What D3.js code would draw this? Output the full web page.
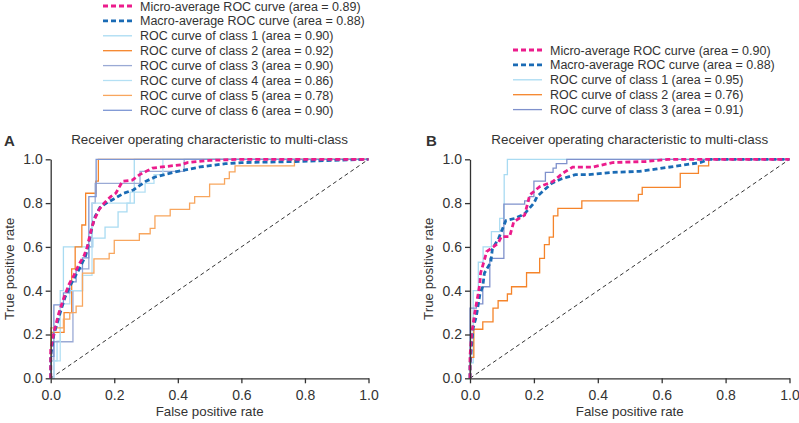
<!DOCTYPE html>
<html>
<head>
<meta charset="utf-8">
<script src="https://cdn.jsdelivr.net/npm/d3@7"></script>
<style>
  body { margin: 0; background: #fff; }
  svg { display: block; font-family: "Liberation Sans", Arial, sans-serif; }
</style>
</head>
<body>
<svg id="roc" width="799" height="423"></svg>
<script>
// valores: pares [taxa de falso positivo, taxa de verdadeiro positivo]
const ticks = [0, 0.2, 0.4, 0.6, 0.8, 1.0];
const titulo = "Receiver operating characteristic to multi-class";

// painel A
const a_micro = [[0,0],[0,0.13],[0.01,0.21],[0.026,0.3],[0.042,0.37],[0.058,0.43],[0.073,0.47],[0.089,0.52],[0.105,0.56],[0.115,0.6],[0.126,0.67],[0.136,0.72],[0.152,0.77],[0.168,0.8],[0.189,0.83],[0.205,0.845],[0.226,0.9],[0.257,0.905],[0.28,0.93],[0.32,0.96],[0.35,0.965],[0.41,0.975],[0.43,0.985],[0.5,0.995],[0.6,1],[1,1]];
const a_macro = [[0,0],[0,0.1],[0.01,0.2],[0.03,0.3],[0.045,0.37],[0.06,0.42],[0.075,0.46],[0.09,0.5],[0.11,0.56],[0.12,0.62],[0.13,0.69],[0.14,0.74],[0.155,0.78],[0.175,0.8],[0.2,0.82],[0.23,0.845],[0.26,0.86],[0.3,0.9],[0.33,0.92],[0.4,0.945],[0.47,0.965],[0.55,0.98],[0.6,0.985],[0.77,0.99],[1,1]];
const a_classe1 = [[0,0],[0,0.08],[0.02,0.08],[0.02,0.17],[0.03,0.17],[0.03,0.4],[0.04,0.4],[0.04,0.6],[0.133,0.6],[0.133,0.64],[0.171,0.64],[0.171,0.69],[0.212,0.69],[0.212,0.76],[0.24,0.76],[0.24,0.8],[0.263,0.8],[0.263,1],[1,1]];
const a_classe2 = [[0,0],[0,0.21],[0.042,0.21],[0.042,0.3],[0.066,0.3],[0.066,0.5],[0.077,0.5],[0.077,0.6],[0.098,0.6],[0.098,0.7],[0.11,0.7],[0.11,0.845],[0.142,0.845],[0.142,0.9],[0.15,0.9],[0.15,1],[1,1]];
const a_classe3 = [[0,0],[0.01,0],[0.01,0.167],[0.07,0.167],[0.07,0.4],[0.1,0.4],[0.1,0.5],[0.12,0.5],[0.12,0.6],[0.13,0.6],[0.13,0.8],[0.14,0.8],[0.14,0.89],[0.281,0.89],[0.281,0.945],[0.42,0.945],[0.42,1],[1,1]];
const a_classe4 = [[0,0],[0.01,0],[0.01,0.08],[0.03,0.08],[0.03,0.34],[0.06,0.34],[0.06,0.4],[0.1,0.4],[0.1,0.47],[0.13,0.47],[0.13,0.8],[0.25,0.8],[0.25,0.85],[0.297,0.85],[0.297,0.89],[0.325,0.89],[0.325,0.93],[0.353,0.93],[0.353,1],[1,1]];
const a_classe5 = [[0,0],[0,0.23],[0.04,0.23],[0.04,0.27],[0.06,0.27],[0.06,0.3],[0.08,0.3],[0.08,0.33],[0.1,0.33],[0.1,0.48],[0.136,0.48],[0.136,0.545],[0.184,0.545],[0.184,0.57],[0.2,0.57],[0.2,0.63],[0.279,0.63],[0.279,0.66],[0.313,0.66],[0.313,0.685],[0.328,0.685],[0.328,0.742],[0.376,0.742],[0.376,0.771],[0.437,0.771],[0.437,0.8],[0.453,0.8],[0.453,0.83],[0.5,0.83],[0.5,0.887],[0.547,0.887],[0.547,0.912],[0.562,0.912],[0.562,0.943],[0.58,0.943],[0.58,0.97],[0.767,0.97],[0.767,1],[1,1]];
const a_classe6 = [[0,0],[0,0.1],[0.01,0.1],[0.01,0.335],[0.04,0.335],[0.04,0.39],[0.06,0.39],[0.06,0.44],[0.08,0.44],[0.08,0.5],[0.1,0.5],[0.1,0.55],[0.12,0.55],[0.12,0.83],[0.143,0.83],[0.143,1],[1,1]];
const a_areas = [0.89, 0.88, 0.90, 0.92, 0.90, 0.86, 0.78, 0.90];

// painel B
const b_micro = [[0,0],[0,0.1],[0.005,0.2],[0.015,0.3],[0.025,0.38],[0.031,0.434],[0.033,0.48],[0.045,0.54],[0.052,0.578],[0.088,0.616],[0.098,0.647],[0.124,0.647],[0.137,0.715],[0.171,0.745],[0.187,0.837],[0.218,0.875],[0.259,0.898],[0.29,0.936],[0.321,0.964],[0.383,0.964],[0.446,0.985],[0.55,0.99],[0.62,1],[1,1]];
const b_macro = [[0,0],[0,0.06],[0.005,0.15],[0.01,0.23],[0.02,0.285],[0.031,0.384],[0.04,0.42],[0.045,0.48],[0.065,0.53],[0.07,0.59],[0.09,0.64],[0.112,0.72],[0.14,0.73],[0.17,0.75],[0.2,0.8],[0.21,0.83],[0.255,0.89],[0.285,0.91],[0.33,0.93],[0.37,0.93],[0.44,0.94],[0.53,0.945],[0.58,0.955],[0.65,0.97],[0.72,0.985],[0.75,1],[1,1]];
const b_classe1 = [[0,0],[0,0.07],[0.01,0.07],[0.01,0.4],[0.026,0.4],[0.026,0.53],[0.041,0.53],[0.041,0.6],[0.067,0.6],[0.067,0.67],[0.093,0.67],[0.093,0.73],[0.107,0.73],[0.107,0.93],[0.117,0.93],[0.117,1],[1,1]];
const b_classe2 = [[0,0],[0,0.096],[0.012,0.096],[0.012,0.224],[0.04,0.224],[0.04,0.258],[0.072,0.258],[0.072,0.32],[0.088,0.32],[0.088,0.354],[0.117,0.354],[0.117,0.385],[0.13,0.385],[0.13,0.418],[0.177,0.418],[0.177,0.482],[0.218,0.482],[0.218,0.548],[0.233,0.548],[0.233,0.61],[0.248,0.61],[0.248,0.645],[0.261,0.645],[0.261,0.742],[0.275,0.742],[0.275,0.776],[0.35,0.776],[0.35,0.81],[0.527,0.81],[0.527,0.84],[0.539,0.84],[0.539,0.872],[0.658,0.872],[0.658,0.936],[0.715,0.936],[0.715,0.97],[0.747,0.97],[0.747,1],[1,1]];
const b_classe3 = [[0,0],[0,0.32],[0.02,0.32],[0.02,0.34],[0.04,0.34],[0.04,0.418],[0.062,0.418],[0.062,0.548],[0.106,0.548],[0.106,0.795],[0.171,0.795],[0.171,0.81],[0.186,0.81],[0.186,0.83],[0.2,0.83],[0.2,0.9],[0.236,0.9],[0.236,0.94],[0.26,0.94],[0.26,0.96],[0.27,0.96],[0.27,0.98],[0.303,0.98],[0.303,1],[1,1]];
const b_areas = [0.90, 0.88, 0.95, 0.76, 0.91];

const cores_a = ["#ec1c8c", "#1a6bb5", "#a9dbf2", "#f5842a", "#9aaad5", "#b4e0f4", "#f8a65e", "#7d96d4"];
const cores_b = ["#ec1c8c", "#1a6bb5", "#a9dbf2", "#f5842a", "#7f91cc"];

function rotulos(areas) {
  return areas.map((a, i) => {
    if (i === 0) return `Micro-average ROC curve (area = ${a.toFixed(2)})`;
    if (i === 1) return `Macro-average ROC curve (area = ${a.toFixed(2)})`;
    return `ROC curve of class ${i - 1} (area = ${a.toFixed(2)})`;
  });
}

const paineis = [
  { letra: "A", x0: 50.7, x1: 368.5, letra_x: 4, leg_x: 103, leg_y: 6,
    series: [a_micro, a_macro, a_classe1, a_classe2, a_classe3, a_classe4, a_classe5, a_classe6],
    cores: cores_a, nomes: rotulos(a_areas) },
  { letra: "B", x0: 470, x1: 789.5, letra_x: 426, leg_x: 513, leg_y: 50,
    series: [b_micro, b_macro, b_classe1, b_classe2, b_classe3],
    cores: cores_b, nomes: rotulos(b_areas) }
];

const svg = d3.select("#roc");
const y_topo = 159.3, y_base = 378.3;
const cor_texto = "#333";

function desenhar_painel(p) {
  const x = d3.scaleLinear().domain([0, 1]).range([p.x0, p.x1]);
  const y = d3.scaleLinear().domain([0, 1]).range([y_base, y_topo]);
  const g = svg.append("g");

  const linha = d3.line().x(d => x(d[0])).y(d => y(d[1]));

  // diagonal de referencia
  g.append("path")
    .attr("d", linha([[0, 0], [1, 1]]))
    .attr("fill", "none").attr("stroke", "#333").attr("stroke-width", 1)
    .attr("stroke-dasharray", "4,3");

  // curvas das classes primeiro, medias por cima
  const ordem = d3.range(2, p.series.length).concat([1, 0]);
  ordem.forEach(i => {
    const media = i < 2;
    g.append("path")
      .attr("d", linha(p.series[i]))
      .attr("fill", "none")
      .attr("stroke", p.cores[i])
      .attr("stroke-width", media ? 2.8 : 1.3)
      .attr("stroke-dasharray", media ? "5,3" : null);
  });

  const eixo_x = g.append("g").attr("transform", `translate(0,${y_base})`)
    .call(d3.axisBottom(x).tickValues(ticks).tickFormat(d3.format(".1f")).tickSize(5).tickSizeOuter(0));
  const eixo_y = g.append("g").attr("transform", `translate(${p.x0},0)`)
    .call(d3.axisLeft(y).tickValues(ticks).tickFormat(d3.format(".1f")).tickSize(5).tickSizeOuter(0));
  [eixo_x, eixo_y].forEach(e => {
    e.selectAll("path, line").attr("stroke", "#333").attr("stroke-width", 1.3);
    e.selectAll("text").attr("fill", cor_texto).style("font-size", "14px")
      .style("font-family", '"Liberation Sans", Arial, sans-serif');
  });
  eixo_x.selectAll("text").attr("dy", "1em");
  eixo_y.selectAll("text").attr("x", -8);

  const meio = (p.x0 + p.x1) / 2;
  g.append("text").attr("x", meio).attr("y", 144).attr("text-anchor", "middle")
    .attr("fill", cor_texto).style("font-size", "13.4px").text(titulo);
  g.append("text").attr("x", p.letra_x).attr("y", 146)
    .attr("fill", cor_texto).style("font-size", "15px").style("font-weight", "bold").text(p.letra);
  g.append("text").attr("x", meio).attr("y", 416).attr("text-anchor", "middle")
    .attr("fill", cor_texto).style("font-size", "13.3px").text("False positive rate");
  g.append("text").attr("transform", `translate(${p.x0 - 37},${(y_topo + y_base) / 2}) rotate(-90)`)
    .attr("text-anchor", "middle").attr("fill", cor_texto).style("font-size", "13.3px").text("True positive rate");

  // legenda
  p.nomes.forEach((nome, i) => {
    const ly = p.leg_y + i * 14.9;
    const media = i < 2;
    g.append("line")
      .attr("x1", p.leg_x).attr("x2", p.leg_x + 29).attr("y1", ly).attr("y2", ly)
      .attr("stroke", p.cores[i]).attr("stroke-width", media ? 2.8 : 1.3)
      .attr("stroke-dasharray", media ? "5,3" : null);
    g.append("text").attr("x", p.leg_x + 37).attr("y", ly).attr("dy", "0.36em")
      .attr("fill", cor_texto).style("font-size", "12.5px").text(nome);
  });
}

paineis.forEach(desenhar_painel);
</script>
</body>
</html>
